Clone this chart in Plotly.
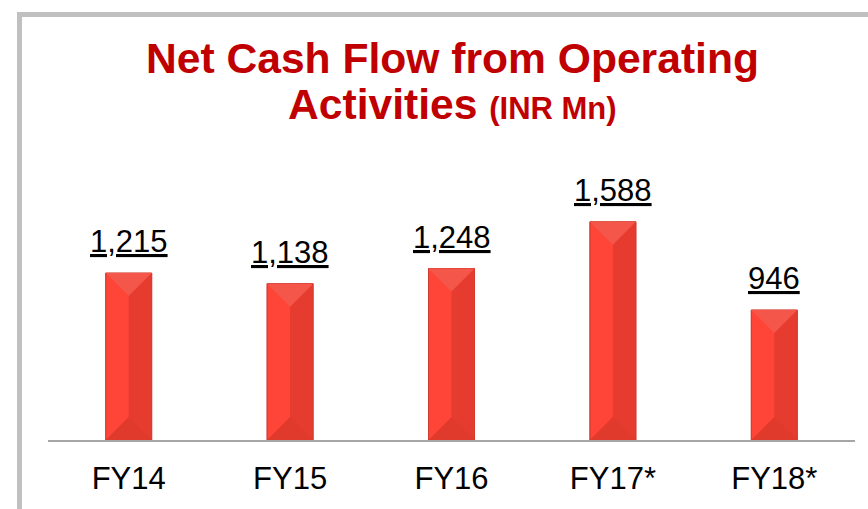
import plotly.graph_objects as go

categories = ["FY14", "FY15", "FY16", "FY17*", "FY18*"]
values = [1215, 1138, 1248, 1588, 946]
value_labels = ["1,215", "1,138", "1,248", "1,588", "946"]

title_line1 = "Net Cash Flow from Operating"
title_line2 = "Activities"
title_unit = "(INR Mn)"

W, H = 868, 509
ML, MR, MT, MB = 48, 13, 179, 69
PW = W - ML - MR
PH = H - MT - MB
YMAX = 1900

FONT = "Liberation Sans, Arial, sans-serif"
RED_TITLE = "#C00000"

def px_x(px):
    return (px - ML) / PW

def px_y(py):
    return (H - MB - py) / PH

BARW = 0.285
xpos = list(range(len(categories)))

# bevel depth: half the bar width expressed in y-units
half_w_px = BARW / 2 * PW / len(categories)
bevel = half_w_px * YMAX / PH

fig = go.Figure()
fig.add_trace(go.Bar(
    x=xpos, y=values, width=BARW,
    marker=dict(color="#FF4538", line=dict(color="#D2362B", width=0.8)),
    hoverinfo="skip", showlegend=False,
))
fig.add_trace(go.Bar(
    x=xpos, y=values, width=BARW / 2, offset=0,
    marker=dict(color="#E63B2F", line=dict(width=0)),
    hoverinfo="skip", showlegend=False,
))

# top and bottom bevel facets, derived from the data
tx, ty, bx, by = [], [], [], []
for xi, v in zip(xpos, values):
    L, R = xi - BARW / 2, xi + BARW / 2
    tx += [L, R, xi, L, None]
    ty += [v, v, v - bevel, v, None]
    bx += [L, R, xi, L, None]
    by += [0, 0, bevel, 0, None]
fig.add_trace(go.Scatter(
    x=tx, y=ty, mode="lines", fill="toself", fillcolor="#F4564A",
    line=dict(width=0, color="rgba(0,0,0,0)"), hoverinfo="skip", showlegend=False,
))
fig.add_trace(go.Scatter(
    x=bx, y=by, mode="lines", fill="toself", fillcolor="#E03A2D",
    line=dict(width=0, color="rgba(0,0,0,0)"), hoverinfo="skip", showlegend=False,
))
# outline on top
fig.add_trace(go.Bar(
    x=xpos, y=values, width=BARW,
    marker=dict(color="rgba(0,0,0,0)", line=dict(color="#CF3A2F", width=0.8)),
    hoverinfo="skip", showlegend=False,
))

annotations = []
for xi, v, lab in zip(xpos, values, value_labels):
    annotations.append(dict(
        x=xi, y=v, xref="x", yref="y", text="<u>" + lab + "</u>",
        showarrow=False, yanchor="bottom", yshift=12,
        font=dict(family=FONT, size=31, color="#000000"),
    ))

annotations.append(dict(
    x=px_x(452), y=px_y(84), xref="paper", yref="paper",
    text="<b>" + title_line1 + "</b>", showarrow=False,
    xanchor="center", yanchor="bottom",
    font=dict(family=FONT, size=42.6, color=RED_TITLE),
))
annotations.append(dict(
    x=px_x(452.5), y=px_y(130), xref="paper", yref="paper",
    text="<b>" + title_line2 + " <span style='font-size:31px'>" + title_unit + "</span></b>",
    showarrow=False, xanchor="center", yanchor="bottom",
    font=dict(family=FONT, size=42.6, color=RED_TITLE),
))

shapes = [dict(
    type="rect", xref="paper", yref="paper",
    x0=px_x(19.5), x1=px_x(1000), y0=px_y(700), y1=px_y(14.5),
    line=dict(color="#C0C0C0", width=5), fillcolor="rgba(0,0,0,0)",
    layer="below",
)]

fig.update_layout(
    width=W, height=H,
    margin=dict(l=ML, r=MR, t=MT, b=MB, pad=0, autoexpand=False),
    paper_bgcolor="white", plot_bgcolor="white",
    barmode="overlay",
    showlegend=False,
    annotations=annotations,
    shapes=shapes,
    font=dict(family=FONT, color="#000000"),
)
fig.update_xaxes(
    range=[-0.5, len(categories) - 0.5], automargin=False,
    tickmode="array", tickvals=xpos, ticktext=categories,
    showline=True, linecolor="#A6A6A6", linewidth=2,
    showgrid=False, zeroline=False,
    ticks="outside", ticklen=10, tickcolor="rgba(0,0,0,0)",
    tickfont=dict(family=FONT, size=31, color="#000000"),
)
fig.update_yaxes(
    range=[0, YMAX], visible=False, showgrid=False, zeroline=False, automargin=False,
)

fig.write_html(
    "out.html",
    config={"displayModeBar": False},
    post_script="document.body.style.margin='0';document.body.style.overflow='hidden';",
)
